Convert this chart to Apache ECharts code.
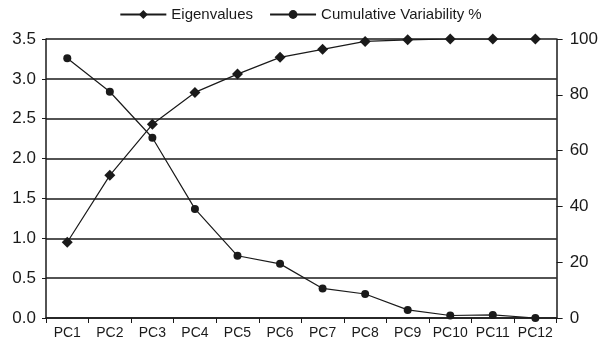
<!DOCTYPE html>
<html>
<head>
<meta charset="utf-8">
<script src="https://cdn.jsdelivr.net/npm/echarts@6/dist/echarts.min.js"></script>
<style>
  html, body { margin: 0; padding: 0; background: #fff; }
  #chart { width: 601px; height: 346px; }
</style>
</head>
<body>
<div id="chart"></div>
<script>
// categories and values
const components = ['PC1', 'PC2', 'PC3', 'PC4', 'PC5', 'PC6', 'PC7', 'PC8', 'PC9', 'PC10', 'PC11', 'PC12'];
const eigenvalues = [0.95, 1.79, 2.43, 2.83, 3.06, 3.27, 3.37, 3.47, 3.49, 3.5, 3.5, 3.5];
const cumulativeVariability = [93.1, 81.1, 64.6, 39.1, 22.3, 19.4, 10.6, 8.6, 2.9, 0.9, 1.1, 0];

const ink = '#1a1a1a';
const font = 'Liberation Sans, Arial, sans-serif';
const narrow = 'Liberation Sans Narrow, Arial Narrow, Liberation Sans, sans-serif';

const chart = echarts.init(document.getElementById('chart'));

chart.setOption({
    animation: false,
    backgroundColor: '#fff',
    textStyle: { fontFamily: font, color: ink },
    legend: {
        top: 2,
        left: 'center',
        itemWidth: 46,
        itemHeight: 11,
        itemGap: 16,
        textStyle: { fontSize: 15, color: ink, fontFamily: font },
        data: ['Eigenvalues', 'Cumulative Variability %']
    },
    grid: {
        left: 46,
        right: 44,
        top: 39,
        bottom: 28
    },
    xAxis: {
        type: 'category',
        data: components,
        boundaryGap: true,
        axisLine: { lineStyle: { color: ink, width: 1.5 } },
        axisTick: { show: true, interval: 0, length: 5, lineStyle: { color: ink } },
        axisLabel: { interval: 0, fontSize: 14, fontFamily: narrow, color: ink, margin: 8 },
        splitLine: { show: false }
    },
    yAxis: [
        {
            type: 'value',
            min: 0,
            max: 3.5,
            interval: 0.5,
            axisLine: { show: true, lineStyle: { color: ink, width: 1.5 } },
            axisTick: { show: true, length: 4, lineStyle: { color: ink } },
            axisLabel: {
                fontSize: 17,
                color: ink,
                margin: 10,
                formatter: v => v.toFixed(1)
            },
            splitLine: { show: true, lineStyle: { color: ink, width: 1.5 } }
        },
        {
            type: 'value',
            min: 0,
            max: 100,
            interval: 20,
            position: 'right',
            axisLine: { show: true, lineStyle: { color: ink, width: 1.5 } },
            axisTick: { show: true, length: 6, lineStyle: { color: ink } },
            axisLabel: { fontSize: 17, color: ink, margin: 13 },
            splitLine: { show: false }
        }
    ],
    series: [
        {
            name: 'Eigenvalues',
            type: 'line',
            yAxisIndex: 0,
            data: eigenvalues,
            symbol: 'diamond',
            symbolSize: 11,
            showAllSymbol: true,
            itemStyle: { color: ink },
            lineStyle: { color: ink, width: 1.2 }
        },
        {
            name: 'Cumulative Variability %',
            type: 'line',
            yAxisIndex: 1,
            data: cumulativeVariability,
            symbol: 'circle',
            symbolSize: 8,
            showAllSymbol: true,
            itemStyle: { color: ink },
            lineStyle: { color: ink, width: 1.2 }
        }
    ]
});
</script>
</body>
</html>
